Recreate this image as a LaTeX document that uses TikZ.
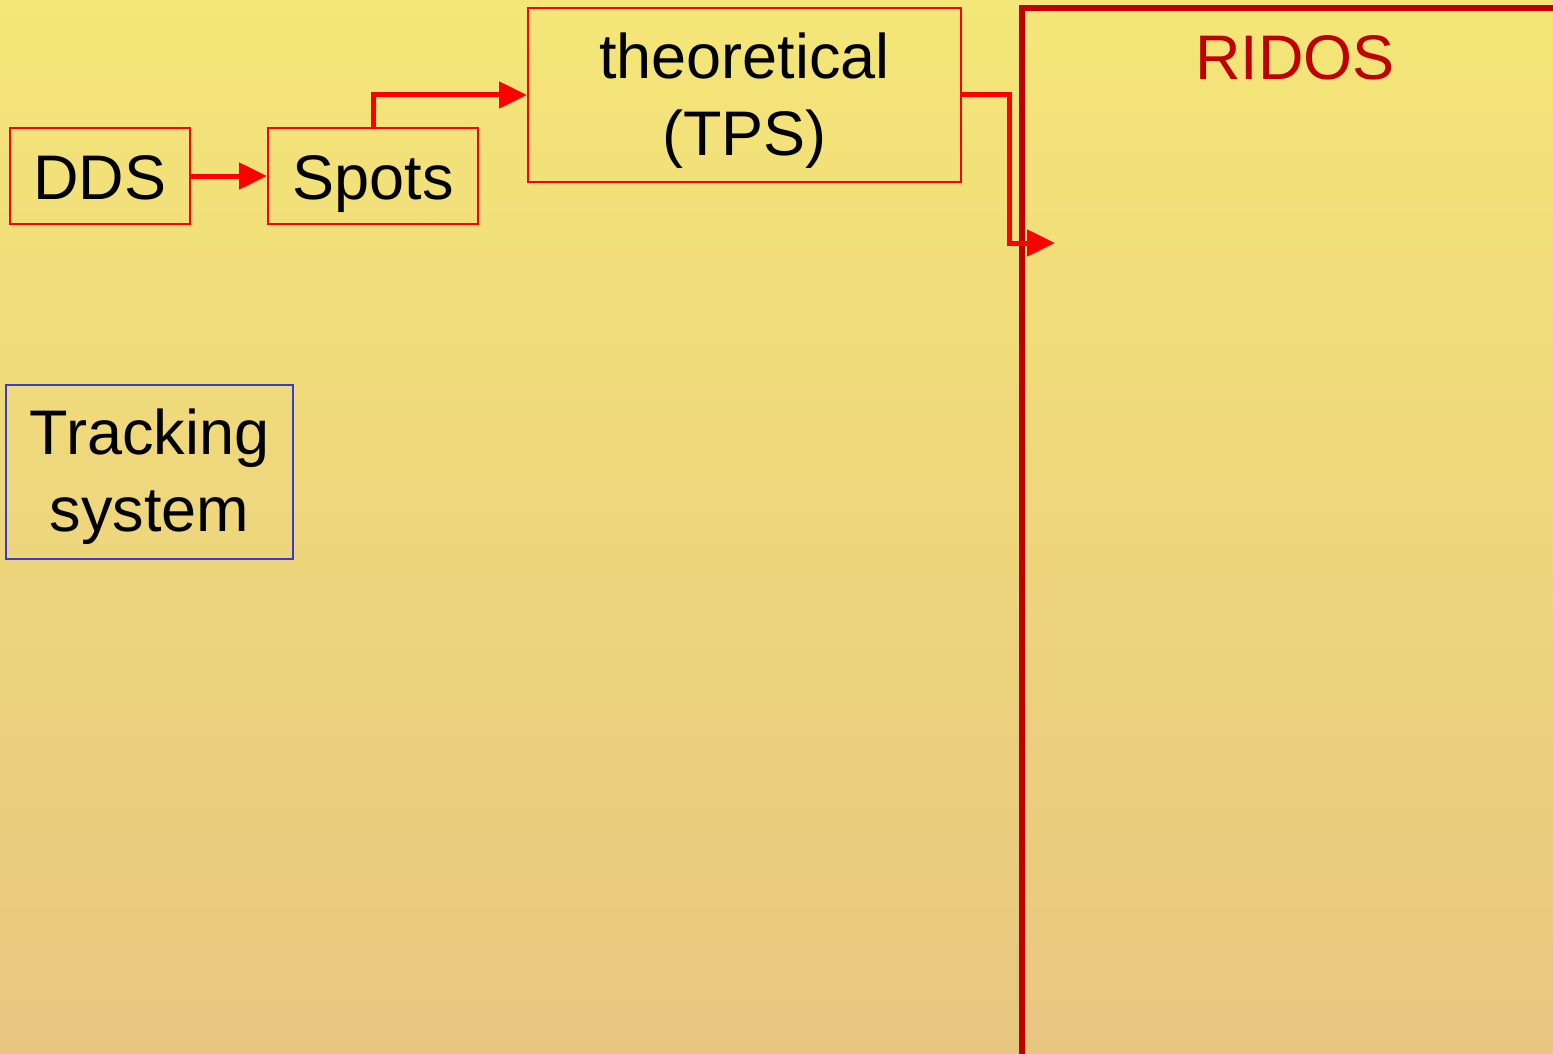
\documentclass[tikz,border=0pt]{standalone}
\usepackage{fontspec}
\setmainfont{Liberation Sans}
\usetikzlibrary{arrows.meta}
\definecolor{bgtop}{RGB}{244,230,120}
\definecolor{bgbot}{RGB}{232,198,128}
\definecolor{boxred}{RGB}{255,0,0}
\definecolor{darkred}{RGB}{192,0,0}
\definecolor{boxblue}{RGB}{60,60,204}
\tikzset{
  bigtext/.style={font=\fontsize{63}{77}\selectfont, text=black},
  redbox/.style={draw=boxred, line width=2pt, inner sep=0pt, bigtext},
  bluebox/.style={draw=boxblue, line width=2pt, inner sep=0pt, bigtext},
  ridosbox/.style={draw=darkred, line width=5.5pt, inner sep=0pt},
  ridostext/.style={font=\fontsize{63}{76}\selectfont, text=darkred},
  conn/.style={draw=boxred, line width=5pt, -{Triangle[length=28pt,width=26pt]}},
}
\begin{document}
\begin{tikzpicture}[x=1pt,y=-1pt]
\useasboundingbox (0,0) rectangle (1553,1054);
\shade[top color=bgtop, bottom color=bgbot] (0,0) rectangle (1553,1054);
\begin{scope}
\clip (0,0) rectangle (1553,1054);
\node[ridosbox, minimum width=546pt, minimum height=1062pt] (ridos) at (1295,539) {};
\end{scope}
\node[ridostext, anchor=base] (ridoslabel) at (1295,80) {RIDOS};
\node[redbox, minimum width=180pt, minimum height=96pt, text height=46pt, text depth=0pt] (dds) at (100,176) {DDS};
\node[redbox, minimum width=210pt, minimum height=96pt, text height=46pt, text depth=0pt] (spots) at (373,176) {Spots};
\node[redbox, minimum width=433pt, minimum height=174pt, align=center] (theo) at (744.5,95) {\rule{0pt}{57pt}theoretical\\(TPS)};
\node[bluebox, minimum width=287pt, minimum height=174pt, align=center] (track) at (149.5,472) {\rule{0pt}{56pt}Tracking\\system};
\coordinate (ridosin) at (1055,243);
\draw[conn] (dds.east) -- (spots.west);
\draw[conn] (spots.north) |- (theo.west);
\draw[conn] (theo.east) -- ++(47,0) |- (ridosin);
\end{tikzpicture}
\end{document}
